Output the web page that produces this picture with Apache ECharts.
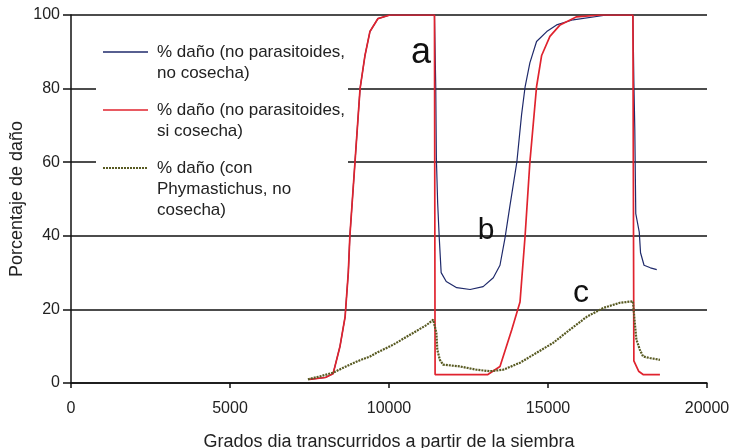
<!DOCTYPE html>
<html>
<head>
<meta charset="utf-8">
<script src="https://cdn.jsdelivr.net/npm/echarts@6/dist/echarts.min.js"></script>
<style>
html,body{margin:0;padding:0;background:#fff;}
#chart{width:730px;height:448px;}
</style>
</head>
<body>
<div id="chart"></div>
<script>
// ---- data ----
var xTicks = [0, 5000, 10000, 15000, 20000];
var yTicks = [0, 20, 40, 60, 80, 100];

var seriesNames = [
  '% daño (no parasitoides,\nno cosecha)',
  '% daño (no parasitoides,\nsi cosecha)',
  '% daño (con\nPhymastichus, no\ncosecha)'
];

// no parasitoides, no cosecha (blue)
var blueX = [7500, 8000, 8240, 8300, 8460, 8620, 8720, 8770, 8930, 9090, 9245, 9400, 9650, 10030, 11430, 11470, 11490, 11530, 11580, 11640, 11800, 12130, 12550, 12960, 13280, 13490, 13650, 13800, 14020, 14170, 14280, 14430, 14640, 14960, 15270, 15790, 16850, 17670, 17700, 17730, 17760, 17870, 17910, 18020, 18220, 18420];
var blueY = [1, 1.5, 2.5, 4.5, 10, 18, 30, 40, 60, 80, 89, 95.5, 99, 100, 100, 80.5, 61, 49, 39.5, 30, 27.6, 25.9, 25.4, 26.2, 28.6, 32, 39.5, 48, 60, 73, 80.5, 87, 92.8, 95.5, 97.3, 98.7, 100, 100, 82, 68.8, 46, 41, 35.4, 32, 31.3, 30.8];

// no parasitoides, si cosecha (red)
var redX = [7500, 8000, 8240, 8300, 8460, 8620, 8720, 8770, 8930, 9090, 9245, 9400, 9650, 10030, 11430, 11450, 13110, 13490, 13860, 14120, 14280, 14430, 14640, 14800, 15060, 15380, 15900, 16640, 17670, 17700, 17850, 17990, 18520];
var redY = [1, 1.5, 2.5, 4.5, 10, 18, 30, 40, 60, 80, 89, 95.5, 99, 100, 100, 2.3, 2.3, 4.5, 14.5, 22, 40, 60, 80.5, 89, 94.2, 97.3, 99.5, 100, 100, 6, 3.2, 2.3, 2.3];

// con Phymastichus, no cosecha (olive)
var greenX = [7450, 7830, 8240, 8770, 9090, 9400, 9610, 10130, 10660, 11190, 11390, 11430, 11490, 11520, 11600, 11700, 12230, 12760, 13180, 13590, 14120, 14640, 15160, 15690, 16220, 16740, 17260, 17670, 17720, 17780, 17890, 17990, 18200, 18520];
var greenY = [1, 1.8, 2.8, 5, 6.2, 7.2, 8.2, 10.4, 13.1, 15.8, 17.2, 16.8, 13.6, 9, 6.3, 5, 4.5, 3.6, 3.2, 3.6, 5.5, 8.2, 10.9, 14.5, 18, 20.4, 21.8, 22.2, 17.2, 11.8, 9, 7.2, 6.8, 6.3];

var curveLabels = ['a', 'b', 'c'];

// ---- chart ----
function zip(xs, ys) { return xs.map(function (x, i) { return [x, ys[i]]; }); }

var colors = ['#1f2a6b', '#e0232e', '#585a22'];
var FONT = 'Liberation Sans, Arial, sans-serif';

var chart = echarts.init(document.getElementById('chart'), null, {renderer: 'canvas'});

var legendLines = seriesNames.map(function (n) { return n.split('\n'); });
var legendY = [52, 110, 168];
var graphics = [{
  type: 'rect', z: 1, silent: true,
  shape: {x: 96, y: 22, width: 252, height: 205},
  style: {fill: '#fff'}
}];
legendLines.forEach(function (lines, i) {
  graphics.push({
    type: 'line', z: 10,
    shape: {x1: 103, y1: legendY[i], x2: 148, y2: legendY[i]},
    style: {stroke: colors[i], lineWidth: i === 2 ? 2.2 : 1.5, lineDash: i === 2 ? [2, 1] : null}
  });
  lines.forEach(function (t, j) {
    graphics.push({
      type: 'text', z: 10,
      x: 157, y: legendY[i] + j * 21,
      style: {text: t, font: '17px ' + FONT, fill: '#222', textVerticalAlign: 'middle'}
    });
  });
});

var option = {
  backgroundColor: '#fff',
  animation: false,
  grid: {left: 71, right: 23, top: 15, bottom: 65, containLabel: false, outerBoundsMode: 'none'},
  xAxis: {
    type: 'value', min: 0, max: 20000, interval: 5000,
    name: 'Grados dia transcurridos a partir de la siembra',
    nameLocation: 'middle', nameGap: 50,
    nameTextStyle: {fontSize: 18, color: '#222', fontFamily: FONT},
    axisLine: {show: true, lineStyle: {color: '#111', width: 1.5}},
    axisTick: {show: true, length: 5, lineStyle: {color: '#111', width: 1.5}},
    axisLabel: {fontSize: 16, color: '#222', margin: 18, fontFamily: FONT,
      formatter: function (v) { return xTicks.indexOf(v) >= 0 ? String(v) : ''; }},
    splitLine: {show: false}
  },
  yAxis: {
    type: 'value', min: 0, max: 100, interval: 20,
    name: 'Porcentaje de daño',
    nameLocation: 'middle', nameGap: 45, nameMoveOverlap: false,
    nameTextStyle: {fontSize: 18, color: '#222', fontFamily: FONT},
    axisLine: {show: true, lineStyle: {color: '#111', width: 1.5}},
    axisTick: {show: true, length: 8, lineStyle: {color: '#111', width: 1.5}},
    axisLabel: {fontSize: 16, color: '#222', margin: 11, fontFamily: FONT,
      formatter: function (v) { return yTicks.indexOf(v) >= 0 ? String(v) : ''; }},
    splitLine: {show: true, lineStyle: {color: '#111', width: 1.5}}
  },
  series: [
    {name: seriesNames[0], type: 'line', data: zip(blueX, blueY), showSymbol: false, z: 3,
      lineStyle: {color: colors[0], width: 1.2}, itemStyle: {color: colors[0]}},
    {name: seriesNames[1], type: 'line', data: zip(redX, redY), showSymbol: false, z: 4,
      lineStyle: {color: colors[1], width: 1.7}, itemStyle: {color: colors[1]}},
    {name: seriesNames[2], type: 'line', data: zip(greenX, greenY), showSymbol: false, z: 5,
      lineStyle: {color: colors[2], width: 2.2, type: [2, 1]}, itemStyle: {color: colors[2]}}
  ],
  graphic: graphics.concat([
    {type: 'text', z: 10, x: 421, y: 53, style: {text: curveLabels[0], font: '36px ' + FONT, fill: '#111', textAlign: 'center', textVerticalAlign: 'middle'}},
    {type: 'text', z: 10, x: 486, y: 231, style: {text: curveLabels[1], font: '30px ' + FONT, fill: '#111', textAlign: 'center', textVerticalAlign: 'middle'}},
    {type: 'text', z: 10, x: 581, y: 293, style: {text: curveLabels[2], font: '32px ' + FONT, fill: '#111', textAlign: 'center', textVerticalAlign: 'middle'}}
  ])
};
chart.setOption(option);
</script>
</body>
</html>
